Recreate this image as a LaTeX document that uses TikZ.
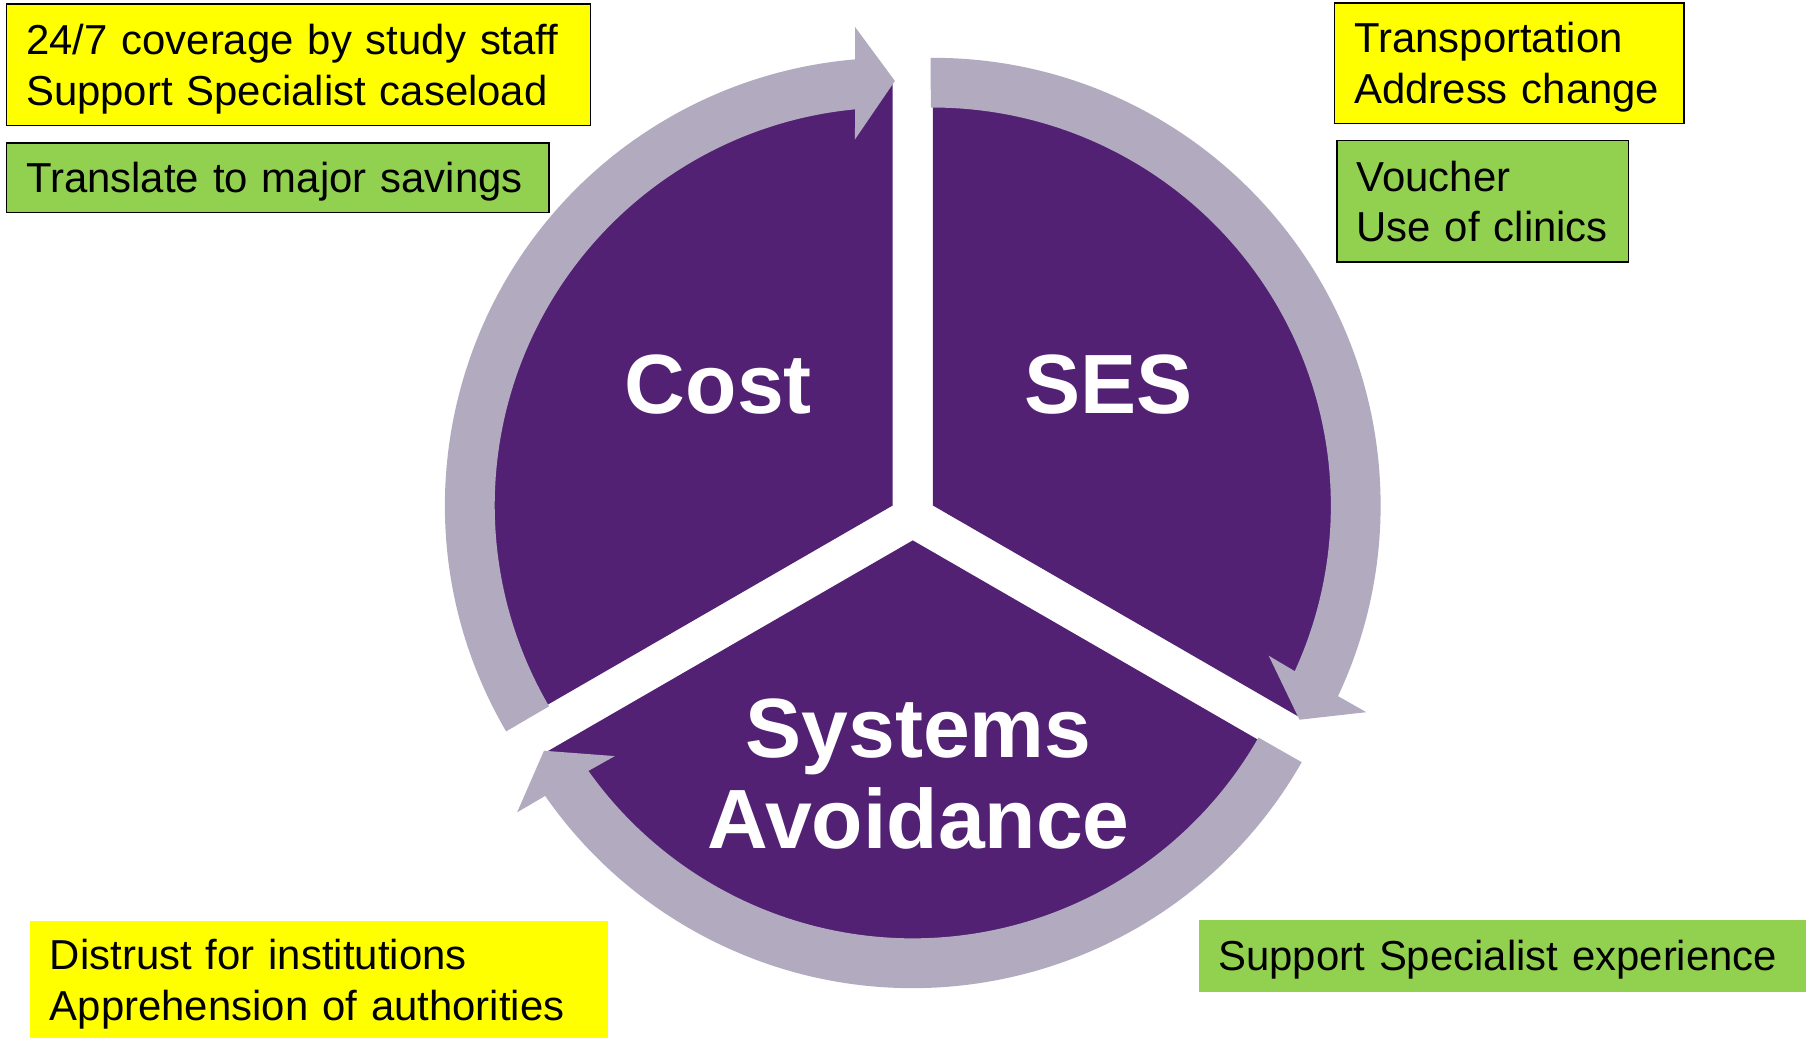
\documentclass[tikz,border=0pt]{standalone}
\usepackage{fontspec}
\setmainfont{Liberation Sans}
\definecolor{wedgecol}{HTML}{532174}
\definecolor{ringcol}{HTML}{B2ABC0}
\definecolor{ylw}{HTML}{FFFF00}
\definecolor{grn}{HTML}{92D050}
\newcommand\bxline[1]{\hspace*{17pt}\rule[-8pt]{0pt}{42pt}\mbox{#1}}
\newcommand\cyclearrow[3]{%
  \fill[arrowfill, shift={(#1)}] (#2:387) arc[start angle=#2, end angle=#3+5.1, radius=387]
    -- (#3+4.8:415) -- (#3:367) -- (#3+6.2:318) -- (#3+5.7:344)
    arc[start angle=#3+5.7, end angle=#2, radius=344] -- cycle;}
\begin{document}
\begin{tikzpicture}[x=1pt,y=1pt,
  wedgefill/.style={fill=wedgecol},
  arrowfill/.style={fill=ringcol},
  biglabel/.style={text=white, font=\fontsize{72.7}{78}\selectfont\bfseries, align=center, inner sep=0pt},
  infobox/.style={anchor=north west, inner sep=0pt, align=left, font=\fontsize{36.2}{44}\selectfont, text=black},
  framed/.style={draw=black, line width=1.2pt}
]
\useasboundingbox (0,0) rectangle (1568,-897);
\fill[white] (0,0) rectangle (1568,-897);

\coordinate (pc) at (771.6,-436.95);
\coordinate (ps) at (806.4,-436.95);
\coordinate (py) at (789,-467.1);

% wedges (outer part hidden under the arrows)
\fill[wedgefill] (pc) -- ++(90:367) arc[start angle=90, end angle=210, radius=367] -- cycle;
\fill[wedgefill] (ps) -- ++(-30:367) arc[start angle=-30, end angle=90, radius=367] -- cycle;
\fill[wedgefill] (py) -- ++(210:367) arc[start angle=210, end angle=330, radius=367] -- cycle;

% circular arrows
\cyclearrow{pc}{210.3}{89.7}
\cyclearrow{ps}{90.3}{-30.3}
\cyclearrow{py}{330.3}{209.7}

% labels
\node[biglabel, anchor=base] (lc) at (621,-357) {Cost};
\node[biglabel, anchor=base] (ls) at (958,-357) {SES};
\node[biglabel, anchor=base] (ly) at (794,-733) {Systems\\Avoidance};

% boxes
\node[infobox, framed, fill=ylw, minimum width=505pt, minimum height=105pt, text width=505pt] (b1) at (5,-3)
  {\bxline{24/7 coverage by study staff}\\\bxline{Support Specialist caseload}};
\node[infobox, framed, fill=grn, minimum width=469pt, minimum height=60pt, text width=469pt] (b2) at (5,-123)
  {\bxline{Translate to major savings}};
\node[infobox, framed, fill=ylw, minimum width=302pt, minimum height=104pt, text width=302pt] (b3) at (1153,-2)
  {\bxline{Transportation}\\\bxline{Address change}};
\node[infobox, framed, fill=grn, minimum width=252pt, minimum height=105pt, text width=252pt] (b4) at (1155,-121)
  {\bxline{Voucher}\\\bxline{Use of clinics}};
\node[infobox, fill=ylw, minimum width=499pt, minimum height=101pt, text width=499pt] (b5) at (26,-796)
  {\bxline{Distrust for institutions}\\\bxline{Apprehension of authorities}};
\node[infobox, fill=grn, minimum width=525pt, minimum height=62pt, text width=525pt] (b6) at (1036,-795)
  {\bxline{Support Specialist experience}};
\end{tikzpicture}
\end{document}
